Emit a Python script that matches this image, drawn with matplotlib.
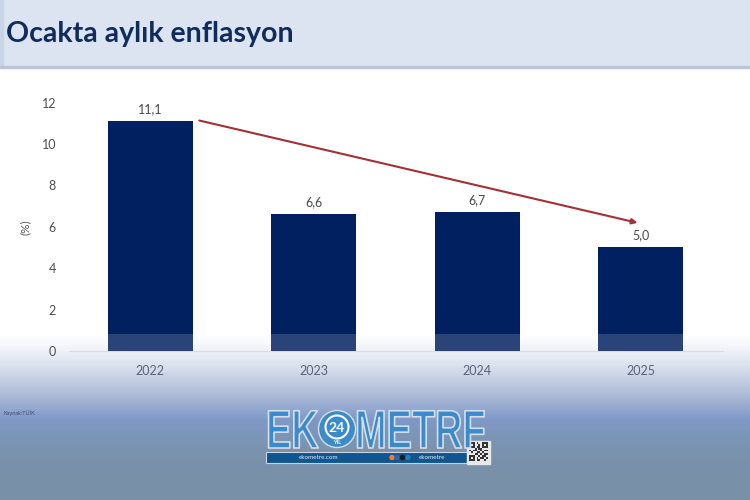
import numpy as np
import matplotlib
matplotlib.use("Agg")
import matplotlib.pyplot as plt
from matplotlib.colors import LinearSegmentedColormap
from matplotlib.patches import Rectangle, Circle
from matplotlib.patheffects import AbstractPathEffect
from matplotlib.transforms import Affine2D

years = ["2022", "2023", "2024", "2025"]
inflation = [11.1, 6.6, 6.7, 5.0]
labels = ["11,1", "6,6", "6,7", "5,0"]
yticks = [0, 2, 4, 6, 8, 10, 12]

W, H = 750, 500
fig = plt.figure(figsize=(7.5, 5), dpi=100)
plt.rcParams['font.family'] = ['Lato', 'DejaVu Sans']


class Squeeze(AbstractPathEffect):
    """Condense glyphs horizontally and outline them."""
    def __init__(self, sx, stroke, lw):
        super().__init__()
        self.sx, self.stroke, self.lw = sx, stroke, lw

    def draw_path(self, renderer, gc, tpath, affine, rgbFace=None):
        aff = Affine2D().scale(self.sx, 1) + affine
        gc0 = renderer.new_gc()
        gc0.copy_properties(gc)
        gc0.set_foreground(self.stroke)
        gc0.set_linewidth(self.lw)
        renderer.draw_path(gc0, tpath, aff, rgbFace)
        gc0.restore()


# page background
bg = fig.add_axes([0, 0, 1, 1], zorder=0)
pos = [68, 335, 350, 370, 395, 420, 440, 470, 500]
cols = ["#ffffff", "#ffffff", "#f0f3f9", "#d5dcea", "#aebcd8", "#7f99c8", "#7b95b4", "#7890a8", "#7890a8"]
cm = LinearSegmentedColormap.from_list("bg", [((p-68)/432, c) for p, c in zip(pos, cols)])
bg.imshow(np.linspace(0, 1, 432)[:, None], cmap=cm, aspect="auto", extent=[0, W, 500, 68], zorder=0)
bg.add_patch(Rectangle((0, 0), W, 66, color="#dbe4f0", zorder=1))
bg.add_patch(Rectangle((0, 0), 3, 66, color="#c9d4e6", zorder=2))
bg.add_patch(Rectangle((0, 65.5), W, 2.5, color="#b9c5da", zorder=2))
bg.set_xlim(0, W); bg.set_ylim(500, 0); bg.axis("off")

fig.text(6/W, 1-34/H, "Ocakta aylık enflasyon", fontsize=20.5, fontweight="bold",
         color="#0f2c5c", va="center", ha="left")

# chart
ax = fig.add_axes([68.5/W, 1-351/H, 654/W, 248.5/H], zorder=3)
ax.patch.set_alpha(0)
x = np.arange(len(years))
ax.bar(x, inflation, width=0.52, color="#002060", zorder=2)
ax.bar(x, np.minimum(inflation, 0.8), width=0.52, color="#2a4379", zorder=3)
for xi, v, t in zip(x, inflation, labels):
    ax.text(xi, v + 0.3, t, ha="center", va="bottom", fontsize=9, color="#4a4a4a")
ax.set_xlim(-0.5, 3.5); ax.set_ylim(0, 12)
ax.set_xticks(x, years); ax.set_yticks(yticks)
ax.tick_params(length=0)
ax.tick_params(axis="x", pad=10, labelsize=9, labelcolor="#5c6278")
ax.tick_params(axis="y", pad=9, labelsize=9, labelcolor="#4f4f4f")
for s in ["top", "right", "left"]:
    ax.spines[s].set_visible(False)
ax.spines["bottom"].set_color("#d9dce2")
ax.set_ylabel("(%)", fontsize=8.5, color="#555555", labelpad=8)
ax.annotate("", xy=(2.98, 6.19), xytext=(0.3, 11.13),
            arrowprops=dict(arrowstyle="-|>", color="#a52f34", lw=1.5, mutation_scale=8, shrinkA=0, shrinkB=0))

fig.text(3/W, 1-413/H, "Kaynak:TÜİK", fontsize=4, color="#3c4a6e", va="center", ha="left")

# logo
blue = "#3b8bcb"
squeeze = [Squeeze(0.7, "#d5deea", 1.2)]
lk = dict(fontsize=39, fontweight="bold", family="Liberation Sans", color=blue,
          va="baseline", ha="left", path_effects=squeeze, zorder=6)
fig.text(266/W, 1-448/H, "EK", **lk)
fig.text(355/W, 1-448/H, "METRF", **lk)
bg.add_patch(Circle((337, 429), 18.5, facecolor=blue, edgecolor="#d5deea", lw=1, zorder=5))
bg.add_patch(Circle((337, 427), 11.5, facecolor=blue, edgecolor="white", lw=1.5, zorder=6))
bg.text(337, 428, "24", fontsize=10, fontweight="bold", color="white", ha="center", va="center", zorder=7)
bg.text(337, 442.5, "YIL", fontsize=4, fontweight="bold", color="white", ha="center", va="center", zorder=7)
bg.add_patch(Rectangle((266, 452), 202, 11, facecolor="#0f5590", edgecolor="#c8d3e4", lw=0.8, zorder=5))
bg.text(319, 457.5, "ekometre.com", fontsize=4.5, color="#e8eef6", ha="center", va="center", zorder=6)
bg.text(432, 457.5, "ekometre", fontsize=4.5, color="#e8eef6", ha="center", va="center", zorder=6)
for px, c in zip([392, 397, 402.5, 408], ["#e8803a", "#2e64b0", "#1c1c1c", "#1f7fc0"]):
    bg.add_patch(Circle((px, 457.5), 2, color=c, zorder=6))
qr = np.array([
    [0,0,0,1,0,1,1,0,0,0],
    [0,1,0,1,1,0,1,0,1,0],
    [0,0,0,1,0,0,1,0,0,0],
    [1,1,1,0,1,0,0,1,1,1],
    [0,1,0,0,1,1,0,1,0,0],
    [1,0,1,1,0,0,1,0,1,1],
    [1,1,1,0,0,1,0,1,0,0],
    [0,0,0,1,1,0,1,0,0,1],
    [0,1,0,1,0,1,0,0,1,0],
    [0,0,0,1,0,0,1,1,0,1]], dtype=float)
bg.add_patch(Rectangle((466.5, 440.5), 23, 23, color="#e8e8e8", zorder=7))
bg.imshow(qr, cmap=LinearSegmentedColormap.from_list("qr", ["#333333", "#e8e8e8"]),
          extent=[468.5, 487.5, 461.5, 442.5], aspect="auto", zorder=8, interpolation="nearest")
bg.set_xlim(0, W); bg.set_ylim(500, 0)

fig.savefig("out.png", dpi=100)
